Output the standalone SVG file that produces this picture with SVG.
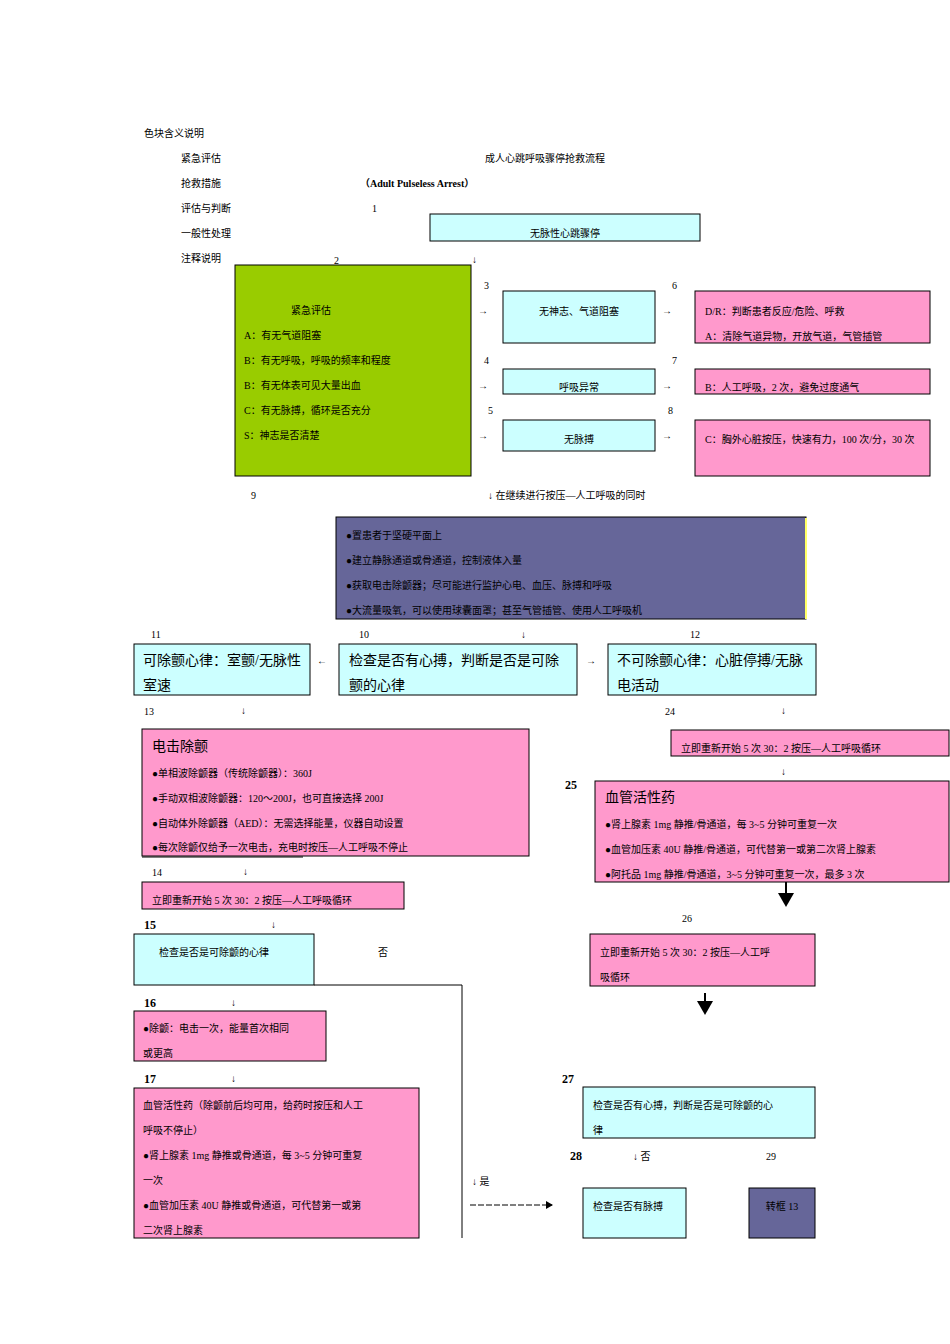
<svg xmlns="http://www.w3.org/2000/svg" width="950" height="1344" viewBox="0 0 950 1344">
<style>
text{font-family:"Liberation Serif","Noto Sans CJK SC",serif;font-size:10px;fill:#000}
.m{font-size:14px}
.b{font-weight:bold;font-size:12px}
.c{fill:#ccffff;stroke:#000;stroke-width:1}
.p{fill:#ff99cc;stroke:#000;stroke-width:1}
.g{fill:#99cc00;stroke:#000;stroke-width:1}
.v{fill:#666699;stroke:#000;stroke-width:1}
.mid{text-anchor:middle}
</style>
<defs><marker id="ah" markerWidth="8" markerHeight="8" refX="6" refY="4" orient="auto"><path d="M0,0 L7,4 L0,8 z" fill="#000"/></marker></defs>
<rect width="950" height="1344" fill="#fff"/>
<g id="legend">
<text x="144" y="137">色块含义说明</text>
<text x="181" y="162">紧急评估</text>
<text x="181" y="187">抢救措施</text>
<text x="181" y="212">评估与判断</text>
<text x="181" y="237">一般性处理</text>
<text x="181" y="262">注释说明</text>
<text x="485" y="162">成人心跳呼吸骤停抢救流程</text>
<text x="360" y="187" font-weight="bold">（Adult Pulseless Arrest）</text>
</g>
<g id="labels">
<text x="372" y="212">1</text><text x="334" y="264">2</text><text x="472" y="263">↓</text>
<text x="484" y="289">3</text><text x="484" y="364">4</text><text x="488" y="414">5</text>
<text x="672" y="289">6</text><text x="672" y="364">7</text><text x="668" y="414">8</text>
<text x="478" y="314">→</text><text x="478" y="389">→</text><text x="478" y="439">→</text>
<text x="662" y="314">→</text><text x="662" y="389">→</text><text x="662" y="439">→</text>
<text x="251" y="499">9</text><text x="488" y="499">↓ 在继续进行按压—人工呼吸的同时</text>
<text x="151" y="638" font-size="13">11</text><text x="359" y="638" font-size="13">10</text><text x="521" y="638">↓</text><text x="690" y="638" font-size="13">12</text>
<text x="317" y="664">←</text><text x="586" y="664">→</text>
<text x="144" y="715" font-size="13">13</text><text x="241" y="714">↓</text><text x="665" y="715" font-size="13">24</text><text x="781" y="714">↓</text>
<text x="152" y="876" font-size="13">14</text><text x="243" y="875">↓</text>
<text x="781" y="775">↓</text>
<text x="565" y="789" class="b">25</text>
<text x="682" y="922" font-size="13">26</text>
<text x="144" y="929" class="b">15</text><text x="271" y="928">↓</text>
<text x="378" y="956">否</text>
<text x="144" y="1007" class="b">16</text><text x="231" y="1006">↓</text>
<text x="144" y="1083" class="b">17</text><text x="231" y="1082">↓</text>
<text x="562" y="1083" class="b">27</text>
<text x="570" y="1160" class="b">28</text><text x="633" y="1160">↓ 否</text><text x="766" y="1160">29</text>
<text x="472" y="1185">↓ 是</text>
</g>
<g id="connectors" stroke="#000" fill="none">
<path d="M786,882 V905" stroke-width="2" marker-end="url(#ah)"/>
<path d="M705,993 V1013" stroke-width="2" marker-end="url(#ah)"/>
<path d="M314,985 H462 V1238"/>
<path d="M470,1205 H552" stroke-dasharray="6,2" marker-end="url(#ah)"/>
<path d="M142,857 H303"/>
</g>
<g id="n1"><rect class="c" x="430" y="214" width="270" height="27"/><text class="mid" x="565" y="237">无脉性心跳骤停</text></g>
<g id="n2"><rect class="g" x="235" y="265" width="236" height="211"/>
<text x="291" y="314">紧急评估</text><text x="244" y="339">A：有无气道阻塞</text><text x="244" y="364">B：有无呼吸，呼吸的频率和程度</text><text x="244" y="389">B：有无体表可见大量出血</text><text x="244" y="414">C：有无脉搏，循环是否充分</text><text x="244" y="439">S：神志是否清楚</text></g>
<g id="n3"><rect class="c" x="503" y="291" width="152" height="52"/><text class="mid" x="579" y="315">无神志、气道阻塞</text></g>
<g id="n4"><rect class="c" x="503" y="369" width="152" height="25"/><text class="mid" x="579" y="391">呼吸异常</text></g>
<g id="n5"><rect class="c" x="503" y="420" width="152" height="31"/><text class="mid" x="579" y="443">无脉搏</text></g>
<g id="n6"><rect class="p" x="695" y="291" width="235" height="52"/><text x="705" y="315">D/R：判断患者反应/危险、呼救</text><text x="705" y="340">A：清除气道异物，开放气道，气管插管</text></g>
<g id="n7"><rect class="p" x="695" y="369" width="235" height="25"/><text x="705" y="391">B：人工呼吸，2 次，避免过度通气</text></g>
<g id="n8"><rect class="p" x="695" y="420" width="235" height="56"/><text x="705" y="443">C：胸外心脏按压，快速有力，100 次/分，30 次</text></g>
<g id="n9"><rect class="v" x="336" y="517" width="470" height="102"/><line x1="806" y1="518" x2="806" y2="619" stroke="#ffff66" stroke-width="2"/>
<text x="346" y="539">●置患者于坚硬平面上</text><text x="346" y="564">●建立静脉通道或骨通道，控制液体入量</text><text x="346" y="589">●获取电击除颤器；尽可能进行监护心电、血压、脉搏和呼吸</text><text x="346" y="614">●大流量吸氧，可以使用球囊面罩；甚至气管插管、使用人工呼吸机</text></g>
<g id="n11"><rect class="c" x="134" y="644" width="176" height="51"/><text class="m" x="143" y="665">可除颤心律：室颤/无脉性</text><text class="m" x="143" y="690">室速</text></g>
<g id="n10"><rect class="c" x="339" y="644" width="238" height="51"/><text class="m" x="349" y="665">检查是否有心搏，判断是否是可除</text><text class="m" x="349" y="690">颤的心律</text></g>
<g id="n12"><rect class="c" x="608" y="644" width="208" height="51"/><text class="m" x="617" y="665">不可除颤心律：心脏停搏/无脉</text><text class="m" x="617" y="690">电活动</text></g>
<g id="n13"><rect class="p" x="142" y="729" width="387" height="127"/><text class="m" x="152" y="751">电击除颤</text>
<text x="152" y="777">●单相波除颤器（传统除颤器）：360J</text><text x="152" y="802">●手动双相波除颤器：120～200J，也可直接选择 200J</text><text x="152" y="827">●自动体外除颤器（AED）：无需选择能量，仪器自动设置</text><text x="152" y="851">●每次除颤仅给予一次电击，充电时按压—人工呼吸不停止</text></g>
<g id="n14"><rect class="p" x="142" y="882" width="262" height="27"/><text x="152" y="904">立即重新开始 5 次 30：2 按压—人工呼吸循环</text></g>
<g id="n24"><rect class="p" x="671" y="730" width="278" height="26"/><text x="681" y="752">立即重新开始 5 次 30：2 按压—人工呼吸循环</text></g>
<g id="n25"><rect class="p" x="595" y="781" width="354" height="101"/><text class="m" x="605" y="802">血管活性药</text>
<text x="605" y="828">●肾上腺素 1mg 静推/骨通道，每 3~5 分钟可重复一次</text><text x="605" y="853">●血管加压素 40U 静推/骨通道，可代替第一或第二次肾上腺素</text><text x="605" y="878">●阿托品 1mg 静推/骨通道，3~5 分钟可重复一次，最多 3 次</text></g>
<g id="n26"><rect class="p" x="590" y="934" width="225" height="52"/><text x="600" y="956">立即重新开始 5 次 30：2 按压—人工呼</text><text x="600" y="981">吸循环</text></g>
<g id="n15"><rect class="c" x="134" y="934" width="180" height="51"/><text x="159" y="956">检查是否是可除颤的心律</text></g>
<g id="n16"><rect class="p" x="134" y="1011" width="192" height="50"/><text x="143" y="1032">●除颤：电击一次，能量首次相同</text><text x="143" y="1057">或更高</text></g>
<g id="n17"><rect class="p" x="134" y="1088" width="285" height="150"/>
<text x="143" y="1109">血管活性药（除颤前后均可用，给药时按压和人工</text><text x="143" y="1134">呼吸不停止）</text><text x="143" y="1159">●肾上腺素 1mg 静推或骨通道，每 3~5 分钟可重复</text><text x="143" y="1184">一次</text><text x="143" y="1209">●血管加压素 40U 静推或骨通道，可代替第一或第</text><text x="143" y="1234">二次肾上腺素</text></g>
<g id="n27"><rect class="c" x="583" y="1087" width="232" height="51"/><text x="593" y="1109">检查是否有心搏，判断是否是可除颤的心</text><text x="593" y="1134">律</text></g>
<g id="n28"><rect class="c" x="583" y="1188" width="103" height="50"/><text x="593" y="1210">检查是否有脉搏</text></g>
<g id="n29"><rect class="v" x="749" y="1188" width="66" height="50"/><text class="mid" x="782" y="1210">转框 13</text></g>
</svg>
